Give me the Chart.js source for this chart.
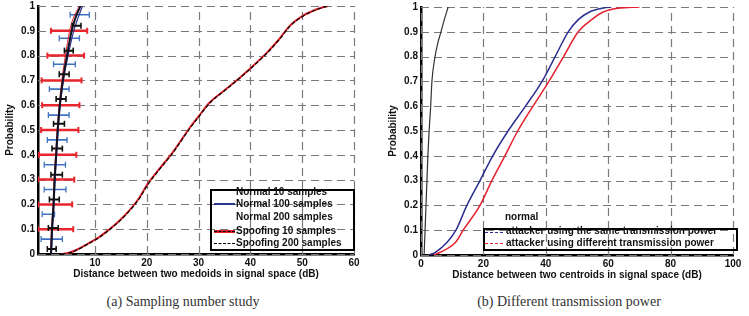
<!DOCTYPE html>
<html>
<head>
<meta charset="utf-8">
<script src="https://cdn.jsdelivr.net/npm/chart.js@4.4.0/dist/chart.umd.min.js"></script>
<style>
body { margin: 0; background: #fff; width: 749px; height: 316px; overflow: hidden; position: relative; }
canvas { position: absolute; top: 0; }
#ca { left: 0; }
#cb { left: 380px; }
.lg { position: absolute; border: 2px solid #000; box-sizing: border-box; }
.lt { position: absolute; font: bold 10px "Liberation Sans", Arial, sans-serif; color: #111; white-space: nowrap; line-height: 12px; }
.ls { position: absolute; width: 21px; height: 0; }
.cap { position: absolute; top: 294px; font: 14px "Liberation Serif", serif; color: #333; white-space: nowrap; transform: translateX(-50%); line-height: 16px; }
</style>
</head>
<body>
<canvas id="ca" width="362" height="286"></canvas>
<canvas id="cb" width="362" height="286"></canvas>

<!-- legend (a) -->
<div class="lg" style="left:210px;top:189px;width:145px;height:62px"></div>
<div class="ls" style="left:214px;top:203px;border-top:2px solid #2b3590"></div>
<div class="ls" style="left:214px;top:230px;border-top:3px solid #e32028"></div>
<div class="ls" style="left:214px;top:231px;border-top:1px dashed #000"></div>
<div class="ls" style="left:214px;top:243px;border-top:1.5px dashed #000"></div>
<div class="lt" style="left:236px;top:186px">Normal 10 samples</div>
<div class="lt" style="left:236px;top:198px">Normal 100 samples</div>
<div class="lt" style="left:236px;top:211px">Normal 200 samples</div>
<div class="lt" style="left:236px;top:225px">Spoofing 10 samples</div>
<div class="lt" style="left:236px;top:237px">Spoofing 200 samples</div>

<!-- legend (b) -->
<div class="lt" style="left:505px;top:211px">normal</div>
<div class="lg" style="left:483px;top:228px;width:255px;height:23px"></div>
<div class="ls" style="left:485px;top:232px;width:18px;border-top:1.5px dashed #2b2f8f"></div>
<div class="ls" style="left:485px;top:243px;width:18px;border-top:1.5px dashed #e3202e"></div>
<div class="lt" style="left:506px;top:225px">attacker using the same transmission power</div>
<div class="lt" style="left:506px;top:237px">attacker using different transmission power</div>

<div class="cap" style="left:183px">(a) Sampling number study</div>
<div class="cap" style="left:569px">(b) Different transmission power</div>

<script>
// ---- (a) sampling number study ----
const normalP   = [0, 0.05, 0.1, 0.2, 0.3, 0.4, 0.5, 0.6, 0.7, 0.8, 0.9, 0.95, 1];
const normal10X  = [1.4, 1.5, 1.6, 1.9, 2.1, 2.4, 2.7, 3.1, 3.6, 4.3, 5.1, 5.8, 7.0];
const normal100X = [1.6, 1.7, 1.8, 2.1, 2.3, 2.6, 2.9, 3.3, 3.9, 4.8, 5.9, 6.7, 7.6];
const normal200X = [1.5, 1.6, 1.7, 2.0, 2.2, 2.5, 2.8, 3.2, 3.8, 4.6, 5.5, 6.2, 7.2];

const spoofP     = [0, 0.005, 0.016, 0.04, 0.068, 0.1, 0.13, 0.175, 0.225, 0.28, 0.345, 0.41, 0.506, 0.555, 0.61, 0.66, 0.71, 0.745, 0.81, 0.865, 0.92, 0.96, 0.98, 0.995, 1];
const spoof10X   = [3.5, 5, 6.4, 8.5, 10.8, 12.8, 14.5, 16.6, 18.5, 20.1, 22.5, 25, 28.2, 30, 32.1, 35, 37.9, 39.8, 43.1, 45.5, 47.6, 50.1, 52, 54, 55];
const spoof200X  = [3.6, 5.1, 6.5, 8.6, 10.9, 12.9, 14.6, 16.7, 18.6, 20.2, 22.6, 25.1, 28.3, 30.1, 32.2, 35.1, 38, 39.9, 43.2, 45.6, 47.7, 50.2, 52.1, 54.1, 55.1];

const redBarP   = [0.1, 0.2, 0.3, 0.4, 0.5, 0.6, 0.7, 0.8, 0.9];
const redBarLo  = [-1, -1, -1, -0.8, -0.4, -0.2, -0.3, 0.8, 1.5];
const redBarHi  = [5.8, 5.6, 6.0, 6.4, 6.8, 7.0, 7.4, 7.9, 8.5];
const blueBarP  = [0.06, 0.16, 0.26, 0.36, 0.46, 0.56, 0.665, 0.765, 0.87, 0.965];
const blueBarLo = [-0.4, -0.2, 0.2, 0.2, 0.8, 1.0, 1.2, 2.0, 3.1, 5.2];
const blueBarHi = [3.7, 2.2, 4.4, 4.3, 4.6, 5.0, 5.0, 6.2, 7.0, 8.9];
const blackBarP  = [0.02, 0.105, 0.22, 0.32, 0.425, 0.525, 0.625, 0.725, 0.82, 0.92];
const blackBarLo = [0.8, 1.0, 1.2, 1.5, 1.7, 2.0, 2.5, 3.1, 4.1, 5.6];
const blackBarHi = [2.5, 2.9, 3.1, 3.7, 3.7, 4.1, 4.4, 5.0, 5.8, 7.3];

// ---- (b) different transmission power ----
const normBP = [0, 0.1, 0.2, 0.3, 0.4, 0.5, 0.6, 0.7, 0.8, 0.85, 0.9, 0.95, 1];
const normBX = [1.0, 1.3, 1.6, 1.9, 2.2, 2.6, 3.1, 3.5, 4.5, 5.3, 6.4, 7.5, 8.7];
const sameP  = [0, 0.01, 0.05, 0.1, 0.2, 0.3, 0.4, 0.5, 0.6, 0.7, 0.8, 0.9, 0.95, 0.98, 0.995, 1];
const sameX  = [2.5, 4.5, 8.3, 11.2, 14.7, 18.9, 23, 27.9, 33.5, 38.8, 43, 47.2, 50.5, 54, 58, 61];
const diffP  = [0, 0.01, 0.05, 0.1, 0.2, 0.3, 0.4, 0.5, 0.6, 0.7, 0.8, 0.9, 0.95, 0.98, 0.995, 1];
const diffX  = [4, 6, 11, 13.5, 18.9, 22.7, 26.9, 31, 35.9, 41, 45.7, 50.4, 54.8, 58.4, 63, 70];

const FONT = '"Liberation Sans", Arial, sans-serif';

function pts(xs, ys) {
    return xs.map((x, i) => ({x: x, y: ys[i]}));
}

// horizontal error bars: one segment per level, gap between
function bars(ps, lo, hi) {
    var out = [];
    for (let i = 0; i < ps.length; i++) {
        out.push({x: lo[i], y: ps[i]});
        out.push({x: hi[i], y: ps[i]});
        out.push({x: null, y: null});
    }
    return out;
}

function curve(data, color, width, dash) {
    return {data: data, borderColor: color, borderWidth: width, borderDash: dash || [],
            pointRadius: 0, cubicInterpolationMode: 'monotone', fill: false};
}

function errbar(data, color, width, cap) {
    return {data: data, borderColor: color, borderWidth: width, tension: 0, fill: false,
            pointStyle: 'line', rotation: 90, pointRadius: cap, pointBorderWidth: width * 0.8,
            pointBorderColor: color, spanGaps: false};
}

// dashed grid drawn from the scale ticks
const dashGrid = {
    id: 'dashGrid',
    beforeDatasetsDraw(chart) {
        const {ctx, chartArea: a, scales: {x, y}} = chart;
        ctx.save();
        ctx.strokeStyle = '#7a7a7a';
        ctx.lineWidth = 1.2;
        ctx.setLineDash([8, 5]);
        ctx.beginPath();
        x.ticks.forEach(t => {
            const px = Math.round(x.getPixelForValue(t.value)) + 0.5;
            ctx.moveTo(px, a.bottom); ctx.lineTo(px, a.top);
        });
        y.ticks.forEach(t => {
            const py = Math.round(y.getPixelForValue(t.value)) + 0.5;
            ctx.moveTo(a.left, py); ctx.lineTo(a.right, py);
        });
        ctx.stroke();
        ctx.restore();
    }
};

function scales(xmin, xmax, step, yw, xh, xTitle, yPad, xPad) {
    const tickFont = {family: FONT, size: 10, weight: 'bold'};
    return {
        x: {
            type: 'linear', min: xmin, max: xmax,
            ticks: {stepSize: step, padding: 3, color: '#111', font: tickFont, maxRotation: 0},
            afterBuildTicks: s => { s.ticks = s.ticks.filter(t => t.value >= 0); },
            grid: {display: false, drawTicks: false},
            border: {color: '#000', width: 2.5},
            title: {display: true, text: xTitle, color: '#111', font: {family: FONT, size: 10, weight: 'bold'},
                    padding: {top: 0, bottom: xPad}},
            afterFit: s => { s.height = xh; s.paddingLeft = 0; s.paddingRight = 0; }
        },
        y: {
            type: 'linear', min: 0, max: 1,
            ticks: {stepSize: 0.1, padding: 3, color: '#111', font: tickFont,
                    callback: v => String(Math.round(v * 10) / 10)},
            grid: {display: false, drawTicks: false},
            border: {color: '#000', width: 2.5},
            title: {display: true, text: 'Probability', color: '#111', font: {family: FONT, size: 10, weight: 'bold'},
                    padding: {top: yPad, bottom: 0}},
            afterFit: s => { s.width = yw; s.paddingTop = 0; s.paddingBottom = 0; }
        }
    };
}

const common = {
    responsive: false,
    animation: false,
    plugins: {legend: {display: false}, tooltip: {enabled: false}}
};

new Chart(document.getElementById('ca'), {
    type: 'line',
    data: {
        datasets: [
            errbar(bars(blackBarP, blackBarLo, blackBarHi), '#111', 2, 3),
            curve(pts(normal200X, normalP), '#111122', 2),
            curve(pts(normal100X, normalP), '#2b3590', 1.2),
            curve(pts(normal10X, normalP), '#e32028', 1),
            errbar(bars(blueBarP, blueBarLo, blueBarHi), '#3f72c2', 1.6, 3),
            errbar(bars(redBarP, redBarLo, redBarHi), '#e8262e', 2.5, 3),
            curve(pts(spoof200X, spoofP), '#000', 1.2, [4, 2]),
            curve(pts(spoof10X, spoofP), '#e32028', 2)
        ]
    },
    options: Object.assign({}, common, {
        layout: {padding: {top: 3, right: 8, left: 0, bottom: 0}},
        scales: scales(-1, 60, 10, 38, 32, 'Distance between two medoids in signal space (dB)', 4, 6)
    }),
    plugins: [dashGrid]
});

new Chart(document.getElementById('cb'), {
    type: 'line',
    data: {
        datasets: [
            curve(pts(normBX, normBP), '#333', 1.2),
            curve(pts(sameX, sameP), '#2b2f8f', 1.5),
            curve(pts(diffX, diffP), '#e3202e', 1.5)
        ]
    },
    options: Object.assign({}, common, {
        layout: {padding: {top: 7, right: 9, left: 0, bottom: 0}},
        scales: scales(0, 100, 20, 41, 31, 'Distance between two centroids in signal space (dB)', 7, 5)
    }),
    plugins: [dashGrid]
});
</script>
</body>
</html>
